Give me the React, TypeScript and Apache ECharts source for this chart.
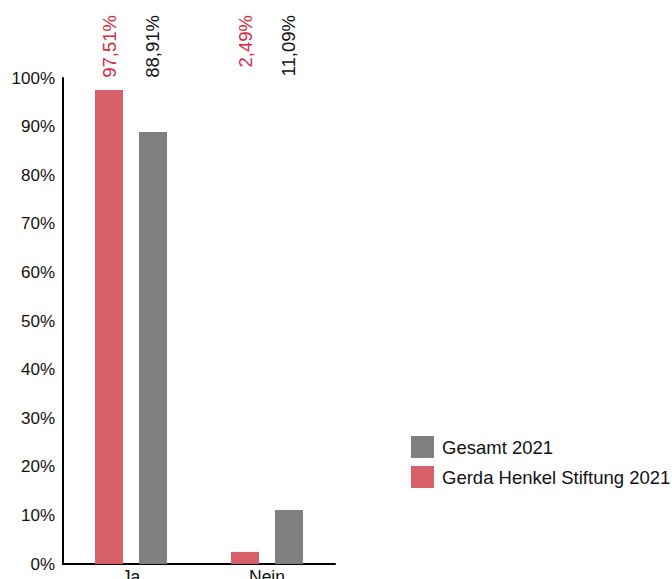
import React, { useEffect, useRef } from "react";
import * as echarts from "echarts";

const categories = ["Ja", "Nein"];
const gesamt = [88.91, 11.09];
const gerda = [97.51, 2.49];
const seriesNames = ["Gesamt 2021", "Gerda Henkel Stiftung 2021"];
const labelAnchor = [100, 100];

const fmt = (v: number) => v.toFixed(2).replace(".", ",") + "%";

export default function App() {
  const ref = useRef<HTMLDivElement>(null);
  useEffect(() => {
    if (!ref.current) return;
    const chart = echarts.init(ref.current, null, { renderer: "svg" });
    const font = "'Liberation Sans', Arial, sans-serif";
    const barCommon = { barWidth: 28, barGap: "57.14%" };
    const labelSeries = (name: string, vals: number[], color: string) => ({
      type: "bar",
      name,
      xAxisIndex: 1,
      data: labelAnchor,
      ...barCommon,
      silent: true,
      itemStyle: { color: "rgba(0,0,0,0)" },
      label: {
        show: true,
        position: "top",
        distance: 63,
        rotate: 90,
        align: "right",
        verticalAlign: "middle",
        fontSize: 18.5,
        fontFamily: font,
        color,
        formatter: (p: any) => fmt(vals[p.dataIndex]),
      },
    });
    chart.setOption({
      animation: false,
      grid: {
        left: 63,
        right: 337,
        top: 78,
        bottom: 15,
        containLabel: false,
        outerBoundsMode: "none",
      },
      legend: {
        data: seriesNames,
        orient: "vertical",
        left: 411,
        top: 436,
        padding: 0,
        itemWidth: 23,
        itemHeight: 22,
        itemGap: 8,
        icon: "rect",
        textStyle: { fontSize: 18.5, fontFamily: font, color: "#111", padding: [0, 0, 0, 3] },
        selectedMode: false,
      },
      xAxis: [
        {
          type: "category",
          data: categories,
          axisLine: { lineStyle: { color: "#000", width: 2 } },
          axisTick: { show: false },
          axisLabel: { fontSize: 17.5, fontFamily: font, color: "#111", margin: 4 },
        },
        { type: "category", data: categories, show: false },
      ],
      yAxis: {
        type: "value",
        min: 0,
        max: 100,
        interval: 10,
        axisLine: { show: true, lineStyle: { color: "#000", width: 2 } },
        axisTick: { show: false },
        splitLine: { show: false },
        axisLabel: {
          fontSize: 17,
          fontFamily: font,
          color: "#111",
          margin: 8,
          formatter: (v: number) => v + "%",
        },
      },
      series: [
        {
          type: "bar",
          name: seriesNames[1],
          data: gerda,
          ...barCommon,
          itemStyle: { color: "#d65f69" },
        },
        {
          type: "bar",
          name: seriesNames[0],
          data: gesamt,
          ...barCommon,
          itemStyle: { color: "#808080" },
        },
        labelSeries("lblGerda", gerda, "#d42a3a"),
        labelSeries("lblGesamt", gesamt, "#111"),
      ],
    });
    return () => chart.dispose();
  }, []);
  return <div ref={ref} style={{ width: 672, height: 579, position: "absolute", left: 0, top: 0 }} />;
}
